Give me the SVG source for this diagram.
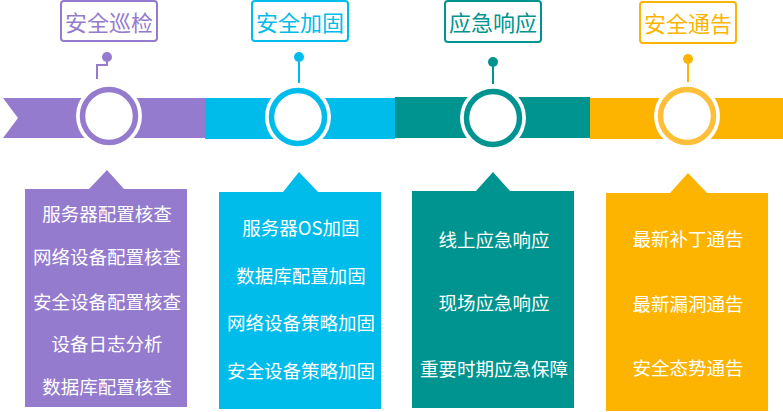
<svg xmlns="http://www.w3.org/2000/svg" width="783" height="412" viewBox="0 0 783 412">
<style>
text{font-family:"Noto Sans CJK SC","Noto Sans",sans-serif;text-anchor:middle;dominant-baseline:central}
.lbl{font-size:22px}
.item{font-size:18.5px;fill:#fff}
.box{fill:#fff;stroke-width:2}
.pin{stroke-width:2;fill:none}
</style>
<rect width="783" height="412" fill="#fff"/>
<g id="bands">
<polygon points="3,98 205,98 205,138 3,138 18,118" fill="#957BCE"/>
<rect x="205" y="98" width="190" height="41" fill="#00BCEB"/>
<rect x="395" y="97" width="195" height="41" fill="#009490"/>
<rect x="590" y="98" width="193" height="41" fill="#FDB400"/>
</g>
<g id="connectors">
<polyline class="pin" points="107,57 107,65 97,65 97,79" stroke="#957BCE"/>
<circle cx="107" cy="57" r="5" fill="#957BCE"/>
<line class="pin" x1="299" y1="57" x2="299" y2="83" stroke="#00BCEB"/>
<circle cx="299" cy="57" r="5" fill="#00BCEB"/>
<line class="pin" x1="493" y1="62" x2="493" y2="84" stroke="#009490"/>
<circle cx="493" cy="62" r="5" fill="#009490"/>
<line class="pin" x1="688" y1="59" x2="688" y2="82" stroke="#FDB400"/>
<circle cx="688" cy="59" r="5" fill="#FDB400"/>
</g>
<g id="node-xunjian">
<rect class="box" x="61" y="1" width="96" height="40" rx="3" stroke="#957BCE"/>
<text class="lbl" x="109" y="21" fill="#957BCE">安全巡检</text>
<circle cx="109" cy="116" r="33" fill="#fff"/>
<circle cx="109" cy="116" r="26.5" fill="#fff" stroke="#957BCE" stroke-width="5.5"/>
<polygon points="25,189 89,189 107,170 124,189 187,189 187,407 25,407" fill="#957BCE"/>
<text class="item" x="107" y="213">服务器配置核查</text>
<text class="item" x="107" y="256">网络设备配置核查</text>
<text class="item" x="107" y="301">安全设备配置核查</text>
<text class="item" x="107" y="343">设备日志分析</text>
<text class="item" x="107" y="386">数据库配置核查</text>
</g>
<g id="node-jiagu">
<rect class="box" x="252" y="1" width="96" height="40" rx="3" stroke="#00BCEB"/>
<text class="lbl" x="300" y="21" fill="#00BCEB">安全加固</text>
<circle cx="298" cy="117" r="33" fill="#fff"/>
<circle cx="298" cy="117" r="26.5" fill="#fff" stroke="#00BCEB" stroke-width="5.5"/>
<polygon points="219,192 283,192 299,172 318,192 381,192 381,409 219,409" fill="#00BCEB"/>
<text class="item" x="301" y="227">服务器OS加固</text>
<text class="item" x="301" y="275">数据库配置加固</text>
<text class="item" x="301" y="322">网络设备策略加固</text>
<text class="item" x="301" y="370">安全设备策略加固</text>
</g>
<g id="node-xiangying">
<rect class="box" x="445" y="1" width="96" height="41" rx="3" stroke="#009490"/>
<text class="lbl" x="493" y="21" fill="#009490">应急响应</text>
<circle cx="493" cy="118" r="33" fill="#fff"/>
<circle cx="493" cy="118" r="26.5" fill="#fff" stroke="#009490" stroke-width="5.5"/>
<polygon points="412,191 476,191 493,172 510,191 574,191 574,408 412,408" fill="#009490"/>
<text class="item" x="494" y="239">线上应急响应</text>
<text class="item" x="494" y="302">现场应急响应</text>
<text class="item" x="494" y="368">重要时期应急保障</text>
</g>
<g id="node-tonggao">
<rect class="box" x="640" y="2" width="96" height="41" rx="3" stroke="#FDB400"/>
<text class="lbl" x="688" y="22" fill="#FDB400">安全通告</text>
<circle cx="687" cy="116" r="33" fill="#fff"/>
<circle cx="687" cy="116" r="26.5" fill="#fff" stroke="#FDBE3A" stroke-width="5.5"/>
<polygon points="606,193 670,193 688,173 707,193 768,193 768,411 606,411" fill="#FDB400"/>
<text class="item" x="688" y="238">最新补丁通告</text>
<text class="item" x="688" y="303">最新漏洞通告</text>
<text class="item" x="688" y="367">安全态势通告</text>
</g>
</svg>
